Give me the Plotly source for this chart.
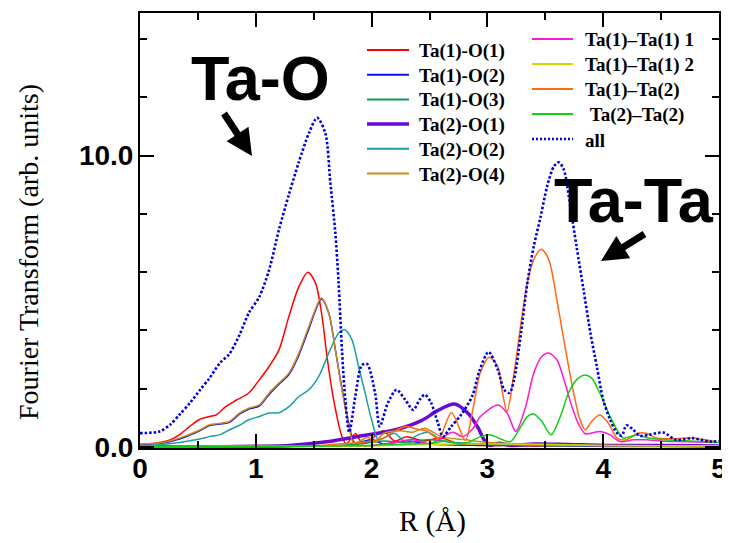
import plotly.graph_objects as go

# ---------------- data ----------------
R_ALL = [0.0, 0.17, 0.26, 0.34, 0.43, 0.52, 0.6, 0.69, 0.77, 0.86, 0.94, 1.03, 1.115, 1.2, 1.29, 1.37,
         1.46, 1.53, 1.6, 1.644, 1.687, 1.715, 1.744, 1.773, 1.807, 1.86, 1.915, 1.96, 2.03, 2.07, 2.14,
         2.215, 2.29, 2.36, 2.415, 2.46, 2.515, 2.573, 2.616, 2.687, 2.773, 2.87, 2.93, 3.01, 3.09, 3.145,
         3.19, 3.23, 3.29, 3.345, 3.4, 3.46, 3.516, 3.574, 3.617, 3.66, 3.716, 3.77, 3.83, 3.89, 3.945,
         4.0, 4.06, 4.12, 4.16, 4.2, 4.25, 4.32, 4.4, 4.52, 4.63, 4.77, 4.92, 5.0]
FT_ALL = [0.47, 0.53, 0.76, 1.1, 1.5, 1.96, 2.36, 2.88, 3.18, 3.85, 4.6, 5.15, 6.08, 7.46, 8.72, 9.76,
          10.79, 11.3, 10.78, 9.06, 7.34, 5.63, 3.33, 1.62, 0.5, 1.75, 2.8, 2.85, 1.85, 0.7, 1.5,
          1.96, 1.62, 1.27, 1.62, 1.79, 1.5, 0.81, 0.35, 0.7, 1.1, 1.75, 2.6, 3.26, 2.65, 1.96,
          1.85, 2.3, 3.9, 5.63, 6.88, 7.91, 8.95, 9.63, 9.77, 9.52, 8.26, 6.88, 5.4, 3.9, 2.76,
          1.62, 0.93, 0.47, 0.38, 0.74, 0.62, 0.38, 0.42, 0.49, 0.24, 0.3, 0.18, 0.2]

R_T1O1 = [0.0, 0.17, 0.26, 0.34, 0.43, 0.51, 0.6, 0.66, 0.74, 0.83, 0.94, 1.03, 1.115, 1.2, 1.286, 1.372,
          1.449, 1.515, 1.572, 1.615, 1.672, 1.744, 1.78, 1.86, 1.92, 1.98, 2.1, 2.2, 2.3, 2.45, 2.6,
          2.75, 2.9, 3.2, 3.5, 4.0, 4.5, 5.0]
FT_T1O1 = [0.07, 0.15, 0.24, 0.41, 0.7, 0.93, 1.04, 1.1, 1.38, 1.6, 1.85, 2.3, 2.76, 3.33, 4.48, 5.5,
           6.0, 5.63, 4.48, 3.1, 1.62, 0.35, 0.1, 0.45, 0.12, 0.2, 0.55, 0.2, 0.35, 0.2, 0.3,
           0.1, 0.05, 0.05, 0.03, 0.05, 0.05, 0.03]

R_T1O2 = [0.0, 0.17, 0.34, 0.515, 0.6, 0.686, 0.772, 0.858, 0.94, 1.03, 1.115, 1.2, 1.286, 1.372, 1.458,
          1.567, 1.63, 1.687, 1.744, 1.8, 1.85, 1.9, 2.0, 2.1, 2.3, 2.5, 3.0, 5.0]
FT_T1O2 = [0.08, 0.11, 0.27, 0.55, 0.73, 0.78, 0.84, 1.12, 1.3, 1.4, 1.8, 2.15, 2.48, 3.15, 4.05,
           5.08, 4.6, 3.35, 2.0, 0.85, 0.15, 0.15, 0.25, 0.1, 0.2, 0.1, 0.05, 0.03]

R_T1O3 = [0.0, 1.5, 1.9, 2.1, 2.3, 2.5, 2.7, 3.0, 3.5, 5.0]
FT_T1O3 = [0.0, 0.02, 0.1, 0.2, 0.15, 0.25, 0.15, 0.1, 0.05, 0.02]

R_T2O1 = [0.0, 0.5, 1.0, 1.29, 1.63, 1.915, 2.2, 2.43, 2.573, 2.716, 2.83, 2.92, 2.97, 3.02, 3.1, 3.2,
          3.4, 3.7, 4.0, 4.5, 5.0]
FT_T2O1 = [0.0, 0.0, 0.02, 0.05, 0.18, 0.38, 0.58, 0.9, 1.25, 1.47, 1.16, 0.65, 0.25, 0.05, 0.12, 0.05,
           0.1, 0.08, 0.05, 0.05, 0.03]

R_T2O2 = [0.0, 0.17, 0.34, 0.515, 0.6, 0.686, 0.77, 0.86, 0.94, 1.03, 1.115, 1.2, 1.286, 1.372, 1.458,
          1.544, 1.63, 1.715, 1.767, 1.83, 1.887, 1.944, 2.0, 2.06, 2.13, 2.2, 2.29, 2.4, 2.49, 2.6,
          2.7, 2.9, 3.5, 5.0]
FT_T2O2 = [0.03, 0.07, 0.15, 0.27, 0.35, 0.41, 0.58, 0.74, 0.93, 1.04, 1.16, 1.17, 1.38, 1.73, 1.96,
           2.42, 3.22, 3.9, 4.02, 3.68, 2.76, 1.85, 0.93, 0.24, 0.35, 0.47, 0.18, 0.41, 0.5, 0.24,
           0.15, 0.1, 0.05, 0.03]

R_T2O4 = [0.0, 0.17, 0.34, 0.515, 0.6, 0.686, 0.772, 0.858, 0.94, 1.03, 1.115, 1.2, 1.286, 1.372, 1.458,
          1.567, 1.63, 1.687, 1.744, 1.8, 1.844, 1.9, 1.97, 2.03, 2.1, 2.25, 2.35, 2.46, 2.6, 2.8,
          3.0, 3.3, 4.0, 5.0]
FT_T2O4 = [0.1, 0.13, 0.3, 0.58, 0.76, 0.81, 0.87, 1.16, 1.33, 1.44, 1.85, 2.19, 2.53, 3.22, 4.13,
           5.11, 4.6, 3.33, 1.96, 0.81, 0.13, 0.2, 0.33, 0.15, 0.45, 0.55, 0.5, 0.64, 0.35, 0.25,
           0.15, 0.1, 0.05, 0.03]

R_T1T1A = [0.0, 1.5, 2.0, 2.2, 2.35, 2.5, 2.6, 2.7, 2.79, 2.87, 2.94, 3.09, 3.17, 3.245, 3.33, 3.4,
           3.47, 3.53, 3.6, 3.67, 3.73, 3.79, 3.845, 3.92, 3.97, 4.06, 4.145, 4.26, 4.37, 4.5, 4.63, 4.97]
FT_T1T1A = [0.0, 0.02, 0.05, 0.15, 0.25, 0.1, 0.3, 0.5, 0.35, 0.6, 1.04, 1.44, 1.16, 0.53, 1.38, 2.53,
            3.1, 3.22, 2.99, 2.19, 1.38, 0.76, 0.45, 0.49, 0.53, 0.41, 0.18, 0.24, 0.24, 0.2, 0.18, 0.15]

R_T1T1B = [0.0, 2.0, 2.5, 3.0, 3.5, 4.0, 5.0]
FT_T1T1B = [0.0, 0.03, 0.08, 0.1, 0.08, 0.05, 0.03]

R_T1T2 = [0.0, 1.0, 1.5, 1.7, 1.9, 2.1, 2.2, 2.3, 2.4, 2.47, 2.58, 2.69, 2.81, 2.87, 2.94, 3.016, 3.09,
          3.13, 3.17, 3.23, 3.29, 3.345, 3.4, 3.465, 3.53, 3.6, 3.67, 3.745, 3.8, 3.845, 3.9, 3.97,
          4.045, 4.12, 4.2, 4.29, 4.37, 4.46, 4.6, 4.745, 4.97]
FT_T1T2 = [0.02, 0.05, 0.03, 0.1, 0.15, 0.3, 0.55, 0.7, 0.6, 0.55, 0.3, 1.18, 0.22, 1.2, 2.55, 3.08, 2.76,
           1.85, 1.21, 2.53, 4.25, 5.63, 6.43, 6.79, 6.43, 5.05, 3.45, 1.85, 0.93, 0.58, 0.87, 1.09,
           0.81, 0.3, 0.24, 0.45, 0.47, 0.3, 0.28, 0.3, 0.18]

R_T2T2 = [0.0, 1.5, 2.0, 2.3, 2.5, 2.65, 2.75, 2.83, 2.94, 3.03, 3.115, 3.2, 3.29, 3.345, 3.4, 3.47,
          3.55, 3.63, 3.7, 3.77, 3.836, 3.9, 3.97, 4.045, 4.12, 4.17, 4.23, 4.3, 4.37, 4.5, 4.75, 5.0]
FT_T2T2 = [0.0, 0.02, 0.05, 0.1, 0.12, 0.2, 0.1, 0.15, 0.35, 0.41, 0.27, 0.18, 0.7, 1.04, 1.13, 0.87,
           0.41, 1.04, 1.85, 2.3, 2.47, 2.36, 1.85, 1.16, 0.58, 0.3, 0.35, 0.41, 0.32, 0.25, 0.2, 0.15]

X_TICK_STEP = 1
Y_TICK_STEP = 10

# name, x, y, colour, width, dash, legend column, legend row
SERIES = [
    ("Ta(1)-O(1)", R_T1O1, FT_T1O1, "#ff0000", 1.5, "solid", 0, 0),
    ("Ta(1)-O(2)", R_T1O2, FT_T1O2, "#1010f0", 1.5, "solid", 0, 1),
    ("Ta(1)-O(3)", R_T1O3, FT_T1O3, "#109a55", 1.5, "solid", 0, 2),
    ("Ta(2)-O(1)", R_T2O1, FT_T2O1, "#6a0ad0", 3.5, "solid", 0, 3),
    ("Ta(2)-O(2)", R_T2O2, FT_T2O2, "#17a3a3", 1.5, "solid", 0, 4),
    ("Ta(2)-O(4)", R_T2O4, FT_T2O4, "#cc8a1a", 1.5, "solid", 0, 5),
    ("Ta(1)–Ta(1) 1", R_T1T1A, FT_T1T1A, "#ff1ad0", 1.5, "solid", 1, 0),
    ("Ta(1)–Ta(1) 2", R_T1T1B, FT_T1T1B, "#d4d400", 1.5, "solid", 1, 1),
    ("Ta(1)–Ta(2)", R_T1T2, FT_T1T2, "#ff6a10", 1.5, "solid", 1, 2),
    (" Ta(2)–Ta(2)", R_T2T2, FT_T2T2, "#10d010", 1.5, "solid", 1, 3),
    ("all", R_ALL, FT_ALL, "#0000e0", 2.6, "2.5px,2px", 1, 4),
]

# ---------------- layout geometry (viewport pixels) ----------------
OFF = 8                      # page body margin of the html page
VW, VH = 730, 543
L, RGT, T, B = 140, 719, 13, 448
W, H = VW - OFF, VH - OFF


def px(xp):
    return (xp - L) / (RGT - L)


def py(yp):
    return (B - yp) / (B - T)


fig = go.Figure()
for name, xs, ys, col, w, dash, _, _ in SERIES:
    fig.add_trace(go.Scatter(x=xs, y=ys, mode="lines", name=name.strip(), showlegend=False,
                             line=dict(color=col, width=w, dash=dash, shape="spline", smoothing=0.8)))

shapes = []
annotations = []
LEG_FONT = dict(family="Liberation Serif", size=19, color="black", weight="bold")
col_geom = [  # line x0, line x1, text x, row y0, row step
    (367, 409, 417, 50, 24.7),
    (532, 573, 583, 39, 25.0),
]
for name, xs, ys, col, w, dash, c, r in SERIES:
    lx0, lx1, tx, y0, step = col_geom[c]
    yy = y0 + r * step
    if dash == "solid":
        lw, ld = (2 if w < 2 else w), "solid"
    else:
        lw, ld = 2.4, "2px,2px"
    shapes.append(dict(type="line", xref="paper", yref="paper", x0=px(lx0), x1=px(lx1), y0=py(yy), y1=py(yy),
                       line=dict(color=col, width=lw, dash=ld)))
    label = name.replace(" ", "&nbsp;", 1) if name.startswith(" ") else name
    annotations.append(dict(xref="paper", yref="paper", x=px(tx), y=py(yy + 1), text=label,
                            showarrow=False, xanchor="left", yanchor="middle", font=LEG_FONT))

BIG = dict(family="Liberation Sans", size=63, color="black", weight="bold")
annotations += [
    dict(xref="paper", yref="paper", x=px(260), y=py(78), text="Ta-O", showarrow=False,
         xanchor="center", yanchor="middle", font=BIG),
    dict(xref="paper", yref="paper", x=px(634), y=py(200), text="Ta-Ta", showarrow=False,
         xanchor="center", yanchor="middle", font=BIG),
    dict(xref="paper", yref="paper", x=px(252), y=py(156), text="", showarrow=True, ax=-29, ay=-44,
         arrowhead=2, arrowwidth=7, arrowsize=0.75, arrowcolor="black", standoff=0),
    dict(xref="paper", yref="paper", x=px(601), y=py(261), text="", showarrow=True, ax=45, ay=-28,
         arrowhead=2, arrowwidth=7, arrowsize=0.75, arrowcolor="black", standoff=0),
    dict(xref="paper", yref="paper", x=px(28), y=py(252), text="Fourier Transform (arb. units)",
         textangle=-90, showarrow=False, xanchor="center", yanchor="middle",
         font=dict(family="Liberation Serif", size=28, color="black")),
    dict(xref="paper", yref="paper", x=px(432), y=py(521), text="R (Å)", showarrow=False,
         xanchor="center", yanchor="middle", font=dict(family="Liberation Serif", size=29, color="black")),
]

TICKFONT = dict(family="Liberation Sans", size=28, color="black", weight="bold")
axis_common = dict(showline=True, linewidth=2, linecolor="black", mirror="allticks", showgrid=False,
                   zeroline=False, ticks="inside", ticklen=14, tickwidth=2, tickcolor="black",
                   tickfont=TICKFONT, automargin=False, ticklabeloverflow="allow")

fig.update_layout(
    width=W, height=H, autosize=False,
    margin=dict(l=L - OFF, r=W - (RGT - OFF), t=T - OFF, b=H - (B - OFF), pad=0, autoexpand=False),
    paper_bgcolor="white", plot_bgcolor="white",
    showlegend=False,
    xaxis=dict(range=[0, 5], tick0=0, dtick=X_TICK_STEP, tickformat="d", ticklabelstandoff=-6,
               minor=dict(dtick=X_TICK_STEP / 2, ticks="inside", ticklen=7, tickwidth=2, tickcolor="black"),
               **axis_common),
    yaxis=dict(range=[-0.04, 14.9], tick0=0, dtick=Y_TICK_STEP, tickformat=".1f", ticklabelstandoff=-1,
               minor=dict(dtick=2, ticks="inside", ticklen=7, tickwidth=2, tickcolor="black"),
               **axis_common),
    shapes=shapes,
    annotations=annotations,
)

fig.write_html("out.html")
